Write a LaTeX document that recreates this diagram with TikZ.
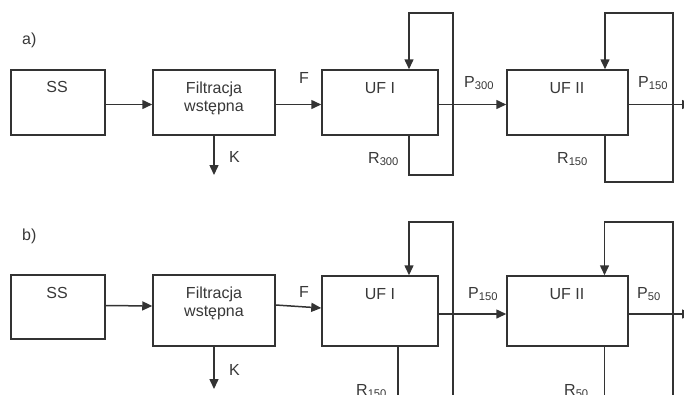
\documentclass[tikz,border=0pt]{standalone}
\usepackage{fontspec}
\setmainfont{Liberation Sans}
\usetikzlibrary{arrows.meta,positioning}
\definecolor{linegray}{HTML}{333333}
\definecolor{txtgray}{HTML}{383838}

\begin{document}
\begin{tikzpicture}[x=1pt,y=-1pt,
    unit/.style={draw=linegray,line width=1.5pt,fill=white,inner sep=0pt},
    lbl/.style={font=\fontsize{16}{18}\selectfont,text=txtgray,inner sep=0pt},
    flow/.style={draw=linegray,line width=1.5pt,-{Triangle[length=10pt,width=9pt]}},
    pipe/.style={draw=linegray,line width=1.5pt},
]
\useasboundingbox (0,0) rectangle (684,394);
\clip (0,0) rectangle (684,394);

% ---- panel a) ------------------------------------------------------------
\node[lbl,anchor=base west] (tagA) at (22,44) {a)};

\node[unit,minimum width=94pt,minimum height=65pt]  (ssA)   at (58,102.5)  {};
\node[unit,minimum width=122pt,minimum height=65pt] (filtA) at (214,102.5) {};
\node[unit,minimum width=116pt,minimum height=65pt] (ufIA)  at (380,102.5) {};
\node[unit,minimum width=121pt,minimum height=65pt] (ufIIA) at (567.5,102.5) {};

\node[lbl,anchor=base] (ssAtxt)   at (57,92)  {SS};
\node[lbl,align=center] (filtAtxt) at (214,98) {Filtracja\\wstępna};
\node[lbl,anchor=base] (ufIAtxt)  at (380,93) {UF I};
\node[lbl,anchor=base] (ufIIAtxt) at (567,93) {UF II};

% main line
\draw[flow] ([yshift=-2pt]ssA.east)   -- ([yshift=-2pt]filtA.west);
\draw[flow] ([yshift=-2pt]filtA.east) -- ([yshift=-2pt]ufIA.west);
\draw[flow] ([yshift=-2pt]ufIA.east)  -- ([yshift=-2pt]ufIIA.west);
\coordinate (outA) at (692,104.5);
\draw[flow] ([yshift=-2pt]ufIIA.east) -- (outA);

% K outlet
\coordinate (kA) at (214,175);
\draw[flow] (filtA.south) -- (kA);

% recycle loops
\coordinate (topIa)  at (453,13);
\coordinate (botIa)  at (453,175);
\draw[flow] ([xshift=29pt]ufIA.south) |- (botIa) -- (topIa) -| ([xshift=29pt]ufIA.north);
\coordinate (topIIa) at (673,13);
\coordinate (botIIa) at (673,182);
\draw[flow] ([xshift=37.5pt]ufIIA.south) |- (botIIa) -- (topIIa) -| ([xshift=37.5pt]ufIIA.north);

% stream labels
\node[lbl,anchor=base west] (lblFa)  at (299,83)  {F};
\node[lbl,anchor=base west] (lblKa)  at (229,162) {K};
\node[lbl,anchor=base west] (lblPIa) at (464,87)  {P\textsubscript{300}};
\node[lbl,anchor=base west] (lblPIIa) at (638,87) {P\textsubscript{150}};
\node[lbl,anchor=base west] (lblRIa) at (368,163) {R\textsubscript{300}};
\node[lbl,anchor=base west] (lblRIIa) at (557,163) {R\textsubscript{150}};

% ---- panel b) ------------------------------------------------------------
\node[lbl,anchor=base west] (tagB) at (22,240) {b)};

\node[unit,minimum width=94pt,minimum height=64pt]  (ssB)   at (58,307)    {};
\node[unit,minimum width=122pt,minimum height=71pt] (filtB) at (214,310.5) {};
\node[unit,minimum width=116pt,minimum height=70pt] (ufIB)  at (380,311)   {};
\node[unit,minimum width=121pt,minimum height=70pt] (ufIIB) at (567.5,311) {};

\node[lbl,anchor=base] (ssBtxt)   at (57,298)  {SS};
\node[lbl,align=center] (filtBtxt) at (214,303) {Filtracja\\wstępna};
\node[lbl,anchor=base] (ufIBtxt)  at (380,299) {UF I};
\node[lbl,anchor=base] (ufIIBtxt) at (567,299) {UF II};

% main line
\draw[flow] ([yshift=1.5pt]ssB.east) -- ([yshift=4.5pt]filtB.west);
\draw[flow] ([yshift=5.5pt]filtB.east) -- ([yshift=3pt]ufIB.west);
\draw[flow] ([yshift=-3pt]ufIB.east) -- ([yshift=-3pt]ufIIB.west);
\coordinate (outB) at (692,314);
\draw[flow] ([yshift=-3pt]ufIIB.east) -- (outB);

% K outlet
\coordinate (kB) at (214,389);
\draw[flow] (filtB.south) -- (kB);

% recycle loops (running off the bottom edge)
\coordinate (drainIb)  at (398,400);
\draw[pipe] (drainIb |- ufIB.south) -- (drainIb);
\coordinate (topIb)  at (453,222);
\coordinate (botIb)  at (453,400);
\draw[flow] (botIb) -- (topIb) -| ([xshift=29pt]ufIB.north);
\coordinate (drainIIb) at (604.5,400);
\draw[pipe] (drainIIb |- ufIIB.south) -- (drainIIb);
\coordinate (topIIb) at (673,222);
\coordinate (botIIb) at (673,400);
\draw[flow] (botIIb) -- (topIIb) -| ([xshift=37pt]ufIIB.north);

% stream labels
\node[lbl,anchor=base west] (lblFb)  at (299,297) {F};
\node[lbl,anchor=base west] (lblKb)  at (229,375) {K};
\node[lbl,anchor=base west] (lblPIb) at (468,298) {P\textsubscript{150}};
\node[lbl,anchor=base west] (lblPIIb) at (637,298) {P\textsubscript{50}};
\node[lbl,anchor=base west] (lblRIb) at (356,395) {R\textsubscript{150}};
\node[lbl,anchor=base west] (lblRIIb) at (564,395) {R\textsubscript{50}};

\end{tikzpicture}
\end{document}
